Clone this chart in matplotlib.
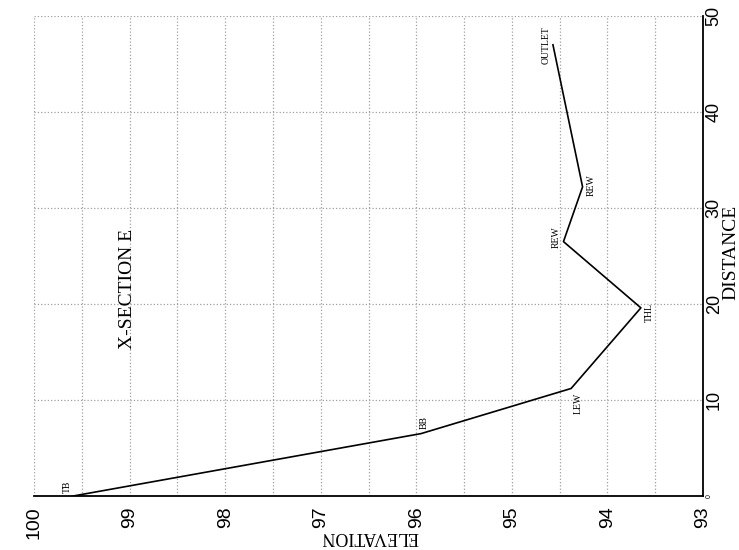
import matplotlib
matplotlib.use("Agg")
import matplotlib.pyplot as plt
from matplotlib.ticker import MultipleLocator

# surveyed cross-section points (distance along section, elevation)
distance = [0.0, 6.5, 11.2, 19.6, 26.5, 32.2, 47.0]
elevation = [99.59, 95.95, 94.38, 93.65, 94.46, 94.26, 94.57]
point_labels = ["TB", "BB", "LEW", "THL", "REW", "REW", "OUTLET"]

elev_ticks = [100, 99, 98, 97, 96, 95, 94, 93]
dist_ticks = [0, 10, 20, 30, 40, 50]

SANS = "Liberation Sans"
SERIF = "Liberation Serif"

# page is drawn turned on its side: elevation runs along the bottom,
# distance up the right edge, and all text is rotated with it
fig = plt.figure(figsize=(7.39, 5.50), dpi=100)
ax = fig.add_axes([34 / 739, 1 - 496 / 550, (703 - 34) / 739, (496 - 16) / 550])

ax.plot(elevation, distance, color="black", lw=1.2, zorder=3)

# label offsets in points (dx, dy, ha, va)
offsets = [(-1, 2, "right", "bottom"),
           (2, 3, "center", "bottom"),
           (2, -3, "left", "top"),
           (3, -3, "left", "center"),
           (-2, 3, "right", "center"),
           (3, 1, "left", "center"),
           (-2, 0, "right", "center")]
for e, d, lab, (dx, dy, ha, va) in zip(elevation, distance, point_labels, offsets):
    ax.annotate(lab, (e, d), xytext=(dx, dy), textcoords="offset points",
                rotation=90, ha=ha, va=va, fontsize=7, family=SERIF)

ax.set_xlim(100, 93)
ax.set_ylim(0, 50)
ax.xaxis.set_minor_locator(MultipleLocator(0.5))
ax.set_xticks(elev_ticks)
ax.set_yticks(dist_ticks)
ax.set_xticklabels([str(t) for t in elev_ticks], rotation=90, fontsize=14, family=SANS)
ax.set_yticklabels([str(t) for t in dist_ticks], rotation=90, fontsize=13,
                   family=SANS, va="center")

ax.yaxis.tick_right()
ax.tick_params(axis="x", which="both", length=0, pad=7.5)
ax.tick_params(axis="y", which="both", length=0, pad=2)
# the zero at the corner is printed tiny
ax.yaxis.get_major_ticks()[0].label2.set_fontsize(5)

ax.grid(True, which="both", axis="x", color="#a0a0a0", ls=":", lw=0.9)
ax.grid(True, which="major", axis="y", color="#a0a0a0", ls=":", lw=0.9)
ax.set_axisbelow(True)

ax.spines["top"].set_visible(False)
ax.spines["left"].set_visible(False)
ax.spines["right"].set_linewidth(1.3)
ax.spines["bottom"].set_linewidth(1.3)

fig.text(370 / 739, 1 - 537 / 550, "ELEVATION", rotation=180, ha="center",
         va="center", fontsize=13, family=SERIF)
fig.text(731 / 739, 1 - 252 / 550, "DISTANCE", rotation=90, ha="center",
         va="center", fontsize=14, family=SERIF)
fig.text(127 / 739, 1 - 289 / 550, "X-SECTION E", rotation=90, ha="center",
         va="center", fontsize=14, family=SERIF)

fig.savefig("out.png", dpi=100)
